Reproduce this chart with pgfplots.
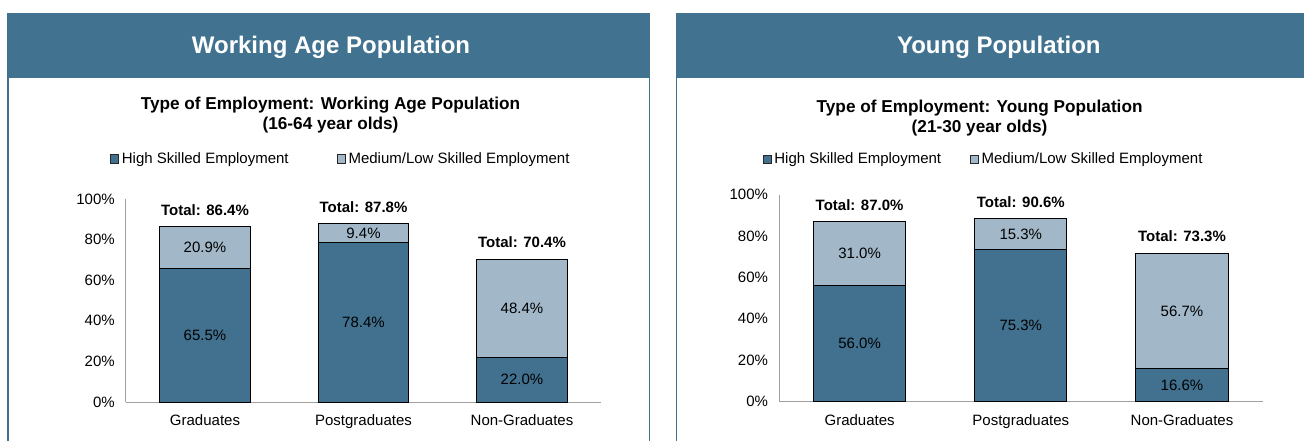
\documentclass[border=0pt]{standalone}
\usepackage{fontspec}
\setmainfont{Liberation Sans}
\usepackage{pgfplots}
\usepackage{pgfplotstable}
\pgfplotsset{compat=1.18}
\definecolor{hdr}{RGB}{65,115,145}
\definecolor{darkbar}{RGB}{65,113,143}
\definecolor{lightbar}{RGB}{162,184,200}
\definecolor{axgray}{RGB}{160,160,160}

% Working age population (16-64)
\pgfplotstableread{
x high med
0 65.5 20.9
1 78.4 9.4
2 22.0 48.4
}\wapdata
\pgfplotstableread{
x y lab
0 32.75 65.5
0 75.95 20.9
1 39.2 78.4
1 83.1 9.4
2 11.0 22.0
2 46.2 48.4
}\wapseg
\pgfplotstableread{
x y lab
0 86.4 86.4
1 87.8 87.8
2 70.4 70.4
}\waptot

% Young population (21-30)
\pgfplotstableread{
x high med
0 56.0 31.0
1 73.6 14.8
2 15.9 55.8
}\ypdata
\pgfplotstableread{
x y lab
0 28.0 56.0
0 71.5 31.0
1 36.8 75.3
1 81.0 15.3
2 7.95 16.6
2 43.8 56.7
}\ypseg
\pgfplotstableread{
x y lab
0 87.0 87.0
1 88.4 90.6
2 71.7 73.3
}\yptot

\newcommand{\fs}{\fontsize{15}{18}\selectfont}

\pgfplotsset{
  /pgf/number format/assume math mode=true,
  frame/.style={
    scale only axis, anchor=south west,
    xmin=-0.5, xmax=2.5, ymin=0, ymax=100,
  },
  panel/.style={
    frame,
    ybar stacked, bar width=0.572,
    axis x line*=bottom, axis y line*=left,
    axis line style={axgray, line width=1pt},
    major tick length=0pt,
    ytick={0,20,...,100},
    yticklabel={\pgfmathprintnumber{\tick}\%},
    xtick={0,1,2},
    xticklabels={Graduates,Postgraduates,Non-Graduates},
    tick label style={font=\fs, text=black},
    xticklabel style={anchor=base, yshift=-23.5pt},
    yticklabel style={xshift=-7.5pt},
    legend columns=2,
    legend cell align=left,
    legend style={draw=none, fill=none, inner sep=0pt, outer sep=0pt,
      anchor=west, font=\fs, cells={anchor=west}, nodes={inner sep=1pt}},
  },
  sq/.style={legend image code/.code={
      \draw[##1, draw=black!85, line width=0.6pt] (0pt,-4.2pt) rectangle (8.3pt,4.2pt);}},
  seglab/.style={draw=none, mark=none, point meta=explicit,
    nodes near coords={\pgfmathprintnumber[fixed,fixed zerofill,precision=1]{\pgfplotspointmeta}\%},
    nodes near coords align=center,
    every node near coord/.append style={font=\fs, text=black, inner sep=0pt, anchor=center}},
  totlab/.style={draw=none, mark=none, point meta=explicit,
    nodes near coords={\textbf{Total: \pgfmathprintnumber[fixed,fixed zerofill,precision=1]{\pgfplotspointmeta}\%}},
    nodes near coords align=center,
    every node near coord/.append style={font=\fs, text=black, inner sep=0pt, anchor=center, yshift=16.8pt}},
}

\begin{document}
\begin{tikzpicture}
\useasboundingbox (0,0) rectangle (1304pt,-441pt);
\clip (0,0) rectangle (1304pt,-441pt);
\fill[white] (0,0) rectangle (1304pt,-441pt);

% panel frames
\fill[hdr] (7pt,-13.3pt) rectangle (650pt,-77.7pt);
\fill[hdr] (675.7pt,-13.3pt) rectangle (1330pt,-77.7pt);
\draw[hdr, line width=1.6pt] (7.8pt,-13.3pt) -- (7.8pt,-445pt);
\draw[hdr, line width=1.2pt] (649.6pt,-13.3pt) -- (649.6pt,-445pt);
\draw[hdr, line width=1.6pt] (676.3pt,-13.3pt) -- (676.3pt,-445pt);

% headers
\node[anchor=base, text=white, font=\fontsize{24}{28}\selectfont\bfseries] at (331pt,-53.3pt) {Working Age Population};
\node[anchor=base, text=white, font=\fontsize{24}{28}\selectfont\bfseries] at (998.8pt,-53.3pt) {Young Population};

% chart titles
\node[anchor=base, font=\fontsize{17.2}{20}\selectfont\bfseries] at (330.5pt,-110pt) {Type of Employment: Working Age Population};
\node[anchor=base, font=\fontsize{17.2}{20}\selectfont\bfseries] at (330.5pt,-129.5pt) {(16-64 year olds)};
\node[anchor=base, font=\fontsize{17.2}{20}\selectfont\bfseries] at (979.6pt,-113pt) {Type of Employment: Young Population};
\node[anchor=base, font=\fontsize{17.2}{20}\selectfont\bfseries] at (979.6pt,-132.5pt) {(21-30 year olds)};

% ---- left chart
\begin{axis}[panel, at={(125.75pt,-402pt)}, width=475.5pt, height=203.1pt,
  legend style={at={(-0.0331,1.1965)},
    /tikz/every odd column/.append style={column sep=2pt},
    /tikz/every even column/.append style={column sep=47pt}}]
\addplot[fill=darkbar, draw=black, line width=1pt, sq] table[x=x,y=high]{\wapdata};
\addplot[fill=lightbar, draw=black, line width=1pt, sq] table[x=x,y=med]{\wapdata};
\legend{High Skilled Employment, Medium/Low Skilled Employment}
\end{axis}
\begin{axis}[frame, hide axis, at={(125.75pt,-402pt)}, width=475.5pt, height=203.1pt]
\addplot[seglab] table[x=x,y=y,meta=lab]{\wapseg};
\addplot[totlab] table[x=x,y=y,meta=lab]{\waptot};
\end{axis}

% ---- right chart
\begin{axis}[panel, at={(779pt,-401.5pt)}, width=483.6pt, height=206.7pt,
  legend style={at={(-0.0341,1.1732)},
    /tikz/every odd column/.append style={column sep=2pt},
    /tikz/every even column/.append style={column sep=27.5pt}}]
\addplot[fill=darkbar, draw=black, line width=1pt, sq] table[x=x,y=high]{\ypdata};
\addplot[fill=lightbar, draw=black, line width=1pt, sq] table[x=x,y=med]{\ypdata};
\legend{High Skilled Employment, Medium/Low Skilled Employment}
\end{axis}
\begin{axis}[frame, hide axis, at={(779pt,-401.5pt)}, width=483.6pt, height=206.7pt]
\addplot[seglab] table[x=x,y=y,meta=lab]{\ypseg};
\addplot[totlab] table[x=x,y=y,meta=lab]{\yptot};
\end{axis}
\end{tikzpicture}
\end{document}
